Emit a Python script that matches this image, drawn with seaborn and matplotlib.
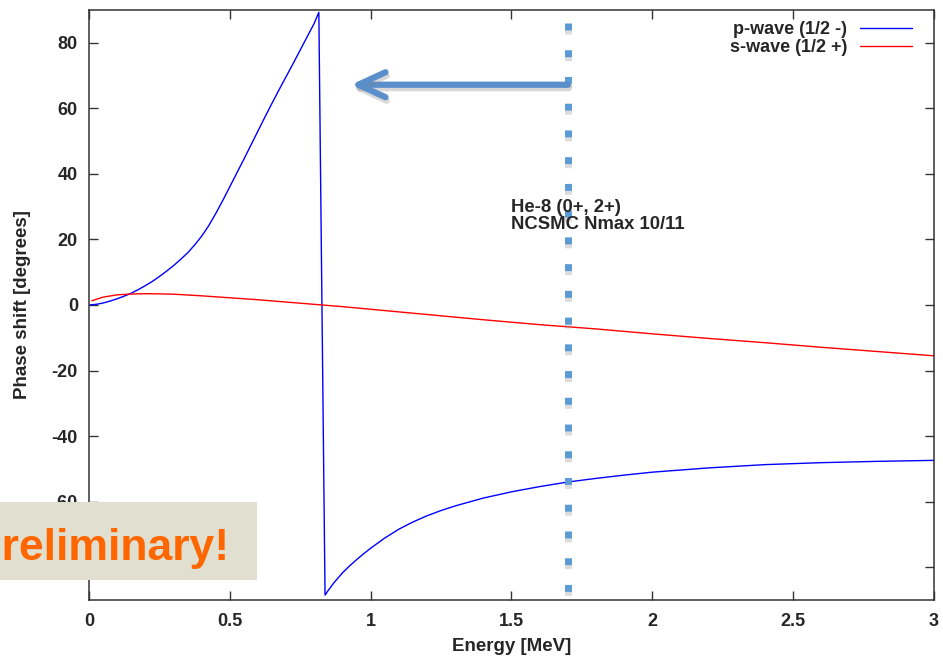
import matplotlib
matplotlib.use("Agg")
import matplotlib.pyplot as plt
import matplotlib.patheffects as pe
from matplotlib.patches import Rectangle
import pandas as pd
import seaborn as sns

# Phase shifts of the p-wave (1/2-) channel, in degrees, vs energy in MeV
p_energy = [0.0, 0.025, 0.05, 0.075, 0.1, 0.125, 0.15, 0.175, 0.2, 0.225, 0.25,
            0.275, 0.3, 0.325, 0.35, 0.375, 0.4, 0.425, 0.45, 0.475, 0.5, 0.525,
            0.55, 0.575, 0.6, 0.625, 0.65, 0.675, 0.7, 0.725, 0.75, 0.775, 0.8, 0.816,
            0.838, 0.85, 0.87, 0.9, 0.925, 0.95, 0.975, 1.0, 1.05, 1.1, 1.15, 1.2,
            1.25, 1.3, 1.4, 1.5, 1.6, 1.7, 1.8, 1.9, 2.0, 2.2, 2.4, 2.6, 2.8, 3.0]
p_phase = [0.0, 0.2, 0.6, 1.2, 1.9, 2.7, 3.6, 4.7, 5.9, 7.2, 8.7,
           10.3, 12.0, 13.9, 15.9, 18.3, 21.0, 24.2, 27.9, 31.9, 36.1, 40.3,
           44.5, 48.8, 53.1, 57.4, 61.6, 65.7, 69.7, 73.7, 77.8, 81.9, 86.0, 89.3,
           -88.5, -87.0, -84.7, -81.7, -79.6, -77.7, -75.9, -74.2, -71.1, -68.4,
           -66.2, -64.3, -62.7, -61.3, -58.9, -57.0, -55.4, -54.0, -52.9, -51.9,
           -51.0, -49.7, -48.7, -48.1, -47.7, -47.4]

# Phase shifts of the s-wave (1/2+) channel
s_energy = [0.01, 0.05, 0.1, 0.15, 0.2, 0.25, 0.3, 0.4, 0.5, 0.6, 0.7, 0.8,
            0.9, 1.0, 1.2, 1.4, 1.6, 1.8, 2.0, 2.2, 2.4, 2.6, 2.8, 3.0]
s_phase = [1.3, 2.4, 3.1, 3.35, 3.45, 3.4, 3.3, 2.8, 2.2, 1.6, 0.9, 0.2,
           -0.5, -1.3, -2.9, -4.5, -6.0, -7.3, -8.8, -10.2, -11.5, -12.9, -14.2, -15.5]

series_labels = ["p-wave (1/2 -)", "s-wave (1/2 +)"]
series_colors = ["#0000FF", "#FF0000"]

x_ticks = [0, 0.5, 1, 1.5, 2, 2.5, 3]
x_tick_labels = ["0", "0.5", "1", "1.5", "2", "2.5", "3"]
y_ticks = [-80, -60, -40, -20, 0, 20, 40, 60, 80]
y_tick_labels = ["-80", "-60", "-40", "-20", "0", "20", "40", "60", "80"]

threshold_energy = 1.7
arrow_target_energy = 0.93
arrow_level = 67.2
note_lines = ["He-8 (0+, 2+)", "NCSMC Nmax 10/11"]
note_energy = 1.5
note_level = 27.2
banner_text = "Preliminary!"

# ---------------------------------------------------------------------------
df = pd.concat([
    pd.DataFrame({"Energy": p_energy, "Phase": p_phase, "wave": series_labels[0]}),
    pd.DataFrame({"Energy": s_energy, "Phase": s_phase, "wave": series_labels[1]}),
], ignore_index=True)

sns.set_style("ticks")
plt.rcParams["font.family"] = ["Liberation Sans", "DejaVu Sans"]
plt.rcParams["font.weight"] = "bold"

W, H = 943, 657
fig = plt.figure(figsize=(W / 100, H / 100), dpi=100)
ax = fig.add_axes([89 / W, 1 - 600 / H, (934 - 89) / W, (600 - 10) / H])

sns.lineplot(data=df, x="Energy", y="Phase", hue="wave",
             hue_order=series_labels, palette=dict(zip(series_labels, series_colors)),
             sort=False, estimator=None, linewidth=1.0, ax=ax)

ax.set_xlim(0, 3)
ax.set_ylim(-90, 90)
ax.set_xticks(x_ticks)
ax.set_xticklabels(x_tick_labels)
ax.set_yticks(y_ticks)
ax.set_yticklabels(y_tick_labels)
ax.tick_params(axis="both", which="both", direction="in", length=6.5, width=1.0,
               color="#333333", labelsize=13, top=True, right=True)
ax.tick_params(axis="y", pad=8)
ax.tick_params(axis="x", pad=9)
for lab in ax.get_xticklabels() + ax.get_yticklabels():
    lab.set_fontweight("bold")
for s in ax.spines.values():
    s.set_color("#333333")
    s.set_linewidth(1.1)

ax.set_xlabel("Energy [MeV]", fontsize=13.5, fontweight="bold")
ax.set_ylabel("Phase shift [degrees]", fontsize=13.5, fontweight="bold")
ax.xaxis.set_label_coords(0.5, -0.064)
ax.yaxis.set_label_coords(-0.0686, 0.5)

sns.move_legend(ax, "upper right", bbox_to_anchor=((912 - 89) / 845, (600 - 21) / 590),
                frameon=False, title=None, markerfirst=False, fontsize=13,
                handlelength=2.9, handletextpad=0.7, labelspacing=0.08,
                borderpad=0, borderaxespad=0)

# Threshold marker: dotted vertical line with a soft shadow
shadow = [pe.SimpleLineShadow(offset=(0.3, -3), shadow_color="0.55", alpha=0.3),
          pe.Normal()]
ax.plot([threshold_energy, threshold_energy], [86, -88.5], color="#5B9BD5",
        linewidth=5, dashes=(1, 2.85), solid_capstyle="butt",
        dash_capstyle="butt", path_effects=shadow, zorder=4)

# Arrow pointing back toward the resonance
ax.annotate("", xy=(arrow_target_energy, arrow_level),
            xytext=(threshold_energy, arrow_level),
            arrowprops=dict(arrowstyle="->,head_length=1.95,head_width=0.9",
                            color="#5B8FCB", lw=4.5, shrinkA=0, shrinkB=0,
                            capstyle="round", joinstyle="round",
                            mutation_scale=10,
                            path_effects=[pe.SimpleLineShadow(offset=(0.8, -2.5),
                                                              shadow_color="0.5",
                                                              alpha=0.3),
                                          pe.Normal()]),
            zorder=5)

ax.text(note_energy, note_level, "\n".join(note_lines), ha="left", va="center",
        fontsize=13.3, fontweight="bold", linespacing=1.0, zorder=6)

# Banner over the lower-left corner
fig.patches.append(Rectangle((0, 1 - 580 / H), 257 / W, 78 / H,
                             transform=fig.transFigure, facecolor="#E1DFCF",
                             edgecolor="none", zorder=10))
fig.text(229 / W, 1 - 560 / H, banner_text, ha="right", va="baseline",
         fontsize=32, fontweight="bold", color="#FF6600", zorder=11)

fig.savefig("out.png", dpi=100, facecolor="white")
